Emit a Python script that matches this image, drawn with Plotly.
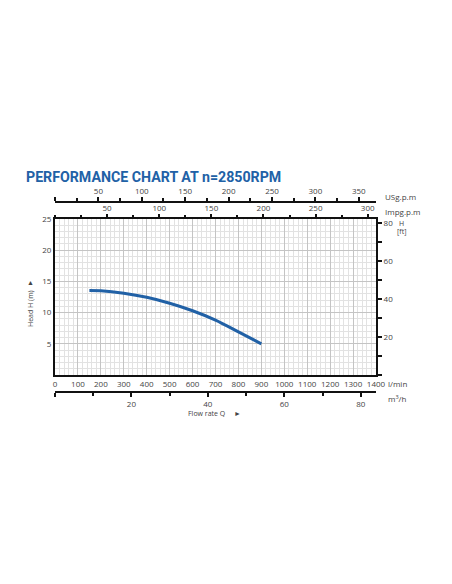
"""Pump performance chart (head vs flow) with multi-unit axes."""
import plotly.graph_objects as go

# ── Data ──────────────────────────────────────────────────────────────────────
flow_lpm = [150, 200, 300, 400, 500, 600, 700, 800, 900]
head_m   = [13.55, 13.5, 13.1, 12.45, 11.5, 10.3, 8.8, 6.9, 5.0]

lpm_ticks  = list(range(0, 1500, 100))
head_ticks = [5, 10, 15, 20, 25]
ft_ticks   = [20, 40, 60, 80]
us_ticks   = [0, 50, 100, 150, 200, 250, 300, 350]
imp_ticks  = [50, 100, 150, 200, 250, 300]
m3h_ticks  = [0, 20, 40, 60, 80]

Q_MAX, H_MAX = 1400, 25
M_TO_FT, L_PER_US, L_PER_IMP = 3.28084, 3.78541, 4.54609

BLUE = "#2161a6"
TXT  = "#444444"
FONT = "Open Sans"

# page body has an 8px margin, so the figure is shrunk to fit the window
PAGE_W, PAGE_H, OFF = 452, 584, 8
W, H = PAGE_W - 2 * OFF, PAGE_H - 2 * OFF


def px(x):
    return (x - OFF) / W


def py(y):
    return 1 - (y - OFF) / H


X0, X1, Y0, Y1 = 55, 376, 219, 375      # plot box in window pixels
dom_x = [px(X0), px(X1)]
dom_y = [py(Y1), py(Y0)]

fig = go.Figure()

fig.add_trace(go.Scatter(
    x=flow_lpm, y=head_m, mode="lines",
    line=dict(color=BLUE, width=3, shape="spline"),
    hoverinfo="skip", showlegend=False,
))
# invisible companions so every unit axis is drawn
fig.add_trace(go.Scatter(
    x=[q / L_PER_IMP for q in flow_lpm], y=[h * M_TO_FT for h in head_m],
    xaxis="x2", yaxis="y2", mode="lines", opacity=0,
    hoverinfo="skip", showlegend=False,
))
fig.add_trace(go.Scatter(
    x=[q / L_PER_US for q in flow_lpm], y=head_m,
    xaxis="x3", yaxis="y", mode="lines", opacity=0,
    hoverinfo="skip", showlegend=False,
))
fig.add_trace(go.Scatter(
    x=[q * 0.06 for q in flow_lpm], y=head_m,
    xaxis="x4", yaxis="y", mode="lines", opacity=0,
    hoverinfo="skip", showlegend=False,
))

tick_font = dict(family=FONT, size=8, color=TXT)
tk = dict(ticks="outside", tickwidth=1.5, tickcolor="#111")
fixed = dict(automargin=False, zeroline=False, fixedrange=True, tickfont=tick_font)

fig.update_layout(
    width=W, height=H,
    margin=dict(l=0, r=0, t=0, b=0),
    paper_bgcolor="white", plot_bgcolor="white",
    showlegend=False, hovermode=False,
    font=dict(family=FONT, color=TXT),
    xaxis=dict(
        domain=dom_x, range=[0, Q_MAX], tickvals=lpm_ticks, ticks="",
        showgrid=True, gridcolor="#c4c4c4", gridwidth=1,
        minor=dict(dtick=20, showgrid=True, gridcolor="#e2e2e2", gridwidth=1),
        showline=True, linecolor="#111", linewidth=2, mirror=True, **fixed,
    ),
    yaxis=dict(
        domain=dom_y, range=[0, H_MAX], tickvals=head_ticks, ticks="",
        showgrid=True, gridcolor="#c4c4c4", gridwidth=1,
        minor=dict(dtick=1, showgrid=True, gridcolor="#e2e2e2", gridwidth=1),
        showline=True, linecolor="#111", linewidth=2, mirror=True, **fixed,
    ),
    yaxis2=dict(
        overlaying="y", side="right", anchor="x",
        range=[0, H_MAX * M_TO_FT], tickvals=ft_ticks, ticklen=5, **tk,
        minor=dict(dtick=10, ticklen=5, **tk),
        showgrid=False, **fixed,
    ),
    xaxis2=dict(
        overlaying="x", side="top", anchor="y", domain=dom_x,
        range=[0, Q_MAX / L_PER_IMP], tickvals=imp_ticks, ticklen=4, **tk,
        minor=dict(dtick=25, ticklen=3, **tk),
        showgrid=False, **fixed,
    ),
    xaxis3=dict(
        overlaying="x", side="top", anchor="free", position=py(202), domain=dom_x,
        range=[0, Q_MAX / L_PER_US], tickvals=us_ticks,
        ticktext=[""] + [str(v) for v in us_ticks[1:]], ticklen=4, **tk,
        minor=dict(dtick=25, ticklen=3, **tk),
        showline=True, linecolor="#111", linewidth=2, showgrid=False, **fixed,
    ),
    xaxis4=dict(
        overlaying="x", side="bottom", anchor="free", position=py(392), domain=dom_x,
        range=[0, Q_MAX * 0.06], tickvals=m3h_ticks,
        ticktext=[""] + [str(v) for v in m3h_ticks[1:]], ticklen=4, **tk,
        minor=dict(dtick=10, ticklen=3, **tk),
        showline=True, linecolor="#111", linewidth=2, showgrid=False, **fixed,
    ),
)


def note(text, x, y, size=8, xanchor="left", color=TXT, family=FONT, **kw):
    fig.add_annotation(
        text=text, xref="paper", yref="paper", x=px(x), y=py(y),
        xanchor=xanchor, yanchor="middle", showarrow=False,
        font=dict(family=family, size=size, color=color), **kw,
    )


# title
note("<b>PERFORMANCE CHART AT n=2850RPM</b>", 24, 177, size=14.2, color=BLUE,
     family="Roboto")

# unit labels
note("USg.p.m", 383, 196)
note("Impg.p.m", 383, 212)
note("l/min", 386, 383)
note("m<sup>3</sup>/h", 386, 398)
note("H", 401, 223, size=7, xanchor="center")
note("[ft]", 401, 231.5, size=7, xanchor="center")

# axis titles
note("Head H (m)", 30, 309, size=7, xanchor="center", textangle=-90)
note("▲", 30, 282, size=7, xanchor="center")
note("Flow rate Q", 207, 413, size=7, xanchor="center")
note("►", 237, 413, size=7, xanchor="center")

fig.write_html("out.html")
